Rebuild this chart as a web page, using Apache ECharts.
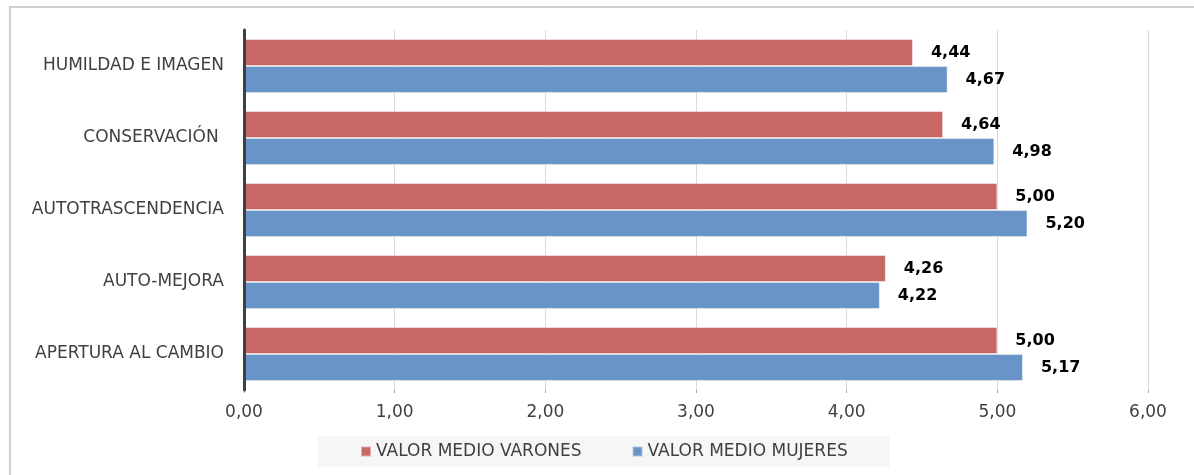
<!DOCTYPE html>
<html>
<head>
<meta charset="utf-8">
<script src="https://cdn.jsdelivr.net/npm/echarts@6/dist/echarts.min.js"></script>
<style>
  html, body { margin: 0; padding: 0; background: #fff; }
  #main { width: 1194px; height: 475px; }
</style>
</head>
<body>
<div id="main"></div>
<script type="text/javascript">
  // categories from bottom to top (category axis goes upward)
  var categorias = ['APERTURA AL CAMBIO', 'AUTO-MEJORA', 'AUTOTRASCENDENCIA', 'CONSERVACIÓN ', 'HUMILDAD E IMAGEN'];
  var varones = [5.00, 4.26, 5.00, 4.64, 4.44];
  var mujeres = [5.17, 4.22, 5.20, 4.98, 4.67];
  var nombreVarones = 'VALOR MEDIO VARONES';
  var nombreMujeres = 'VALOR MEDIO MUJERES';

  var fuente = 'DejaVu Sans';
  function coma(v) { return Number(v).toFixed(2).replace('.', ','); }

  var myChart = echarts.init(document.getElementById('main'));

  var etiqueta = {
    show: true,
    position: 'right',
    distance: 18,
    color: '#000',
    fontFamily: fuente,
    fontWeight: 'bold',
    fontSize: 16,
    formatter: function (p) { return coma(p.value); }
  };

  var option = {
    animation: false,
    backgroundColor: '#fff',
    graphic: [{
      type: 'rect',
      shape: { x: 10, y: 7, width: 1300, height: 600 },
      style: { fill: null, stroke: '#d0d0d0', lineWidth: 2 },
      silent: true
    }],
    grid: { left: 244, right: 46, top: 30, bottom: 85 },
    legend: {
      data: [nombreVarones, nombreMujeres],
      left: 318,
      top: 436,
      backgroundColor: '#f6f6f6',
      padding: [7, 42, 7, 42],
      itemGap: 50,
      itemWidth: 10,
      itemHeight: 10,
      icon: 'rect',
      textStyle: { color: '#404040', fontFamily: fuente, fontSize: 17 }
    },
    xAxis: {
      type: 'value',
      min: 0,
      max: 6,
      interval: 1,
      axisLine: { show: false },
      axisTick: { show: true, length: 3, lineStyle: { color: '#a6a6a6' } },
      splitLine: { show: true, lineStyle: { color: '#d9d9d9', width: 1 } },
      axisLabel: {
        color: '#404040', fontFamily: fuente, fontSize: 17, margin: 14,
        formatter: function (v) { return coma(v); }
      }
    },
    yAxis: {
      type: 'category',
      data: categorias,
      z: 5,
      axisLine: { show: true, lineStyle: { color: '#404040', width: 3 } },
      axisTick: { show: false },
      axisLabel: { color: '#404040', fontFamily: fuente, fontSize: 17, margin: 20 }
    },
    series: [
      {
        name: nombreVarones,
        type: 'bar',
        data: varones,
        barGap: '0%',
        barCategoryGap: '25%',
        itemStyle: { color: '#c86866', borderColor: 'rgba(255,255,255,0.45)', borderWidth: 1 },
        label: etiqueta
      },
      {
        name: nombreMujeres,
        type: 'bar',
        data: mujeres,
        barGap: '0%',
        barCategoryGap: '25%',
        itemStyle: { color: '#6894c7', borderColor: 'rgba(255,255,255,0.45)', borderWidth: 1 },
        label: etiqueta
      }
    ]
  };

  myChart.setOption(option);
</script>
</body>
</html>
